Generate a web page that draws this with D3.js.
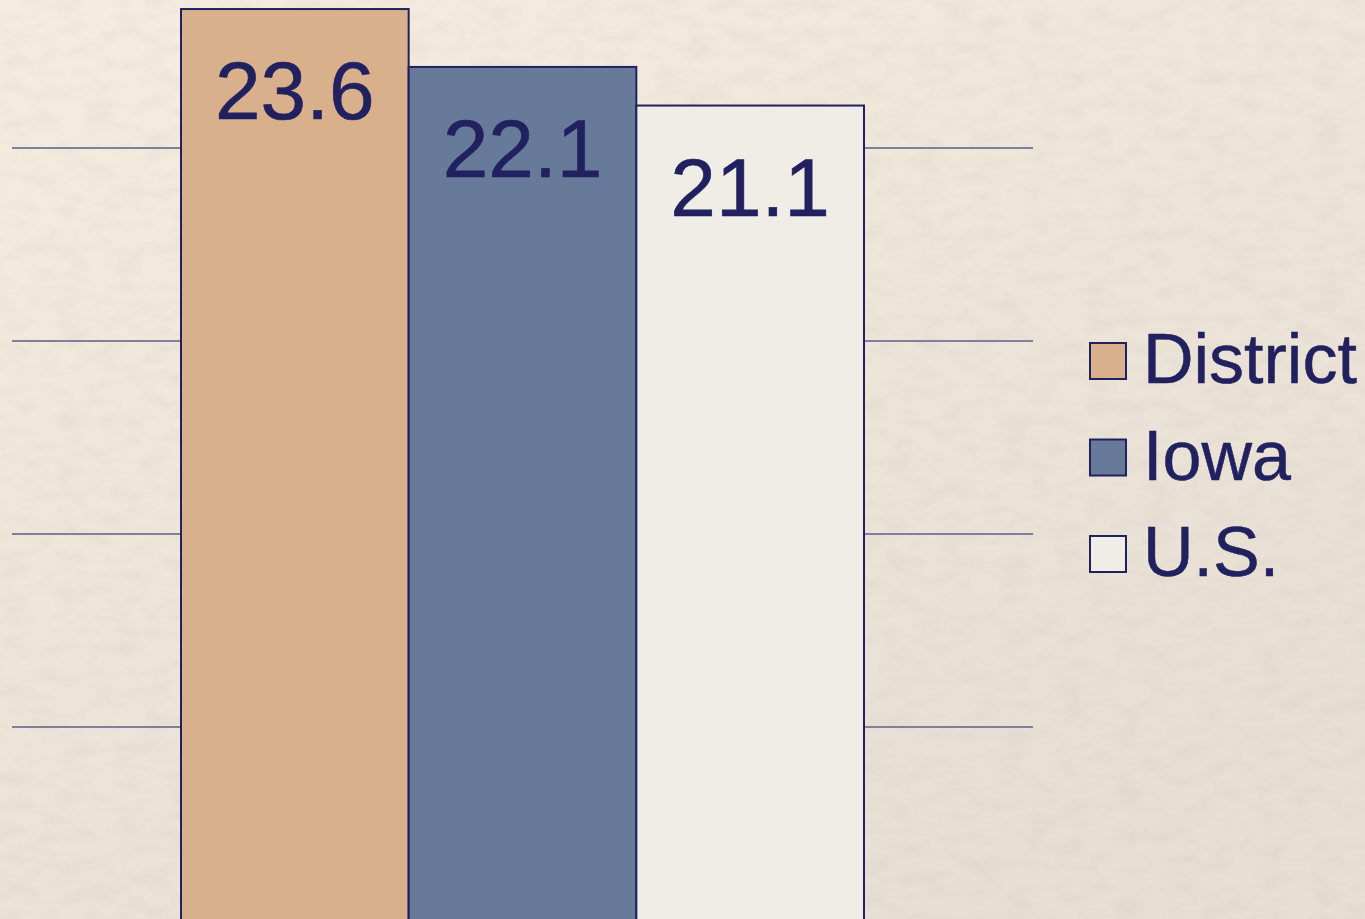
<!DOCTYPE html>
<html>
<head>
<meta charset="utf-8">
<script src="https://cdn.jsdelivr.net/npm/d3@7"></script>
<style>
  html, body { margin: 0; padding: 0; overflow: hidden; }
  svg { display: block; }
</style>
</head>
<body>
<div id="chart-area"></div>
<script>
// data
var categories = ["District", "Iowa", "U.S."]
var values = [23.6, 22.1, 21.1]
var gridValues = [5, 10, 15, 20]

var width = 1365
var height = 919

var colors = ["#d8b08c", "#687a99", "#f0ede6"]
var ink = "#22215f"

var svg = d3.select("#chart-area").append("svg")
  .attr("width", width)
  .attr("height", height)

// paper background
var defs = svg.append("defs")
var grad = defs.append("linearGradient")
  .attr("id", "paper")
  .attr("x1", "0").attr("y1", "0").attr("x2", "0.6").attr("y2", "1")
grad.append("stop").attr("offset", "0%").attr("stop-color", "#f4ede0")
grad.append("stop").attr("offset", "55%").attr("stop-color", "#ede5d8")
grad.append("stop").attr("offset", "100%").attr("stop-color", "#e7dfd4")

var filter = defs.append("filter").attr("id", "grain")
  .attr("x", 0).attr("y", 0).attr("width", "100%").attr("height", "100%")
filter.append("feTurbulence")
  .attr("type", "fractalNoise")
  .attr("baseFrequency", "0.035 0.07")
  .attr("numOctaves", 3)
  .attr("seed", 4)
filter.append("feColorMatrix")
  .attr("type", "matrix")
  .attr("values", "0 0 0 0 0.5  0 0 0 0 0.45  0 0 0 0 0.4  -0.6 0 0 0 0.35")

svg.append("rect")
  .attr("width", width).attr("height", height)
  .attr("fill", "url(#paper)")
svg.append("rect")
  .attr("width", width).attr("height", height)
  .attr("filter", "url(#grain)")
  .attr("opacity", 0.5)

// scales
var x = d3.scaleBand()
  .domain(categories)
  .range([181, 864])
  .padding(0)

var y = d3.scaleLinear()
  .domain([0, 25])
  .range([920, -45])

// gridlines
svg.append("g").selectAll("line")
  .data(gridValues)
  .enter().append("line")
  .attr("x1", 12)
  .attr("x2", 1033)
  .attr("y1", d => y(d))
  .attr("y2", d => y(d))
  .attr("stroke", "#7d80a0")
  .attr("stroke-width", 2)

// bars
var bars = svg.append("g")
bars.selectAll("rect")
  .data(values)
  .enter().append("rect")
  .attr("x", (d, i) => x(categories[i]))
  .attr("y", d => y(d))
  .attr("width", x.bandwidth())
  .attr("height", d => y(0) - y(d))
  .attr("fill", (d, i) => colors[i])
  .attr("stroke", ink)
  .attr("stroke-width", 2)

bars.selectAll("text")
  .data(values)
  .enter().append("text")
  .attr("x", (d, i) => x(categories[i]) + x.bandwidth() / 2)
  .attr("y", d => y(d) + 110)
  .attr("text-anchor", "middle")
  .attr("font-family", "Liberation Sans, Arial, sans-serif")
  .attr("font-size", "82px")
  .attr("fill", ink)
  .attr("stroke", ink)
  .attr("stroke-width", 0.6)
  .text(d => d3.format(".1f")(d))

// legend
var legend = svg.append("g")
  .attr("transform", "translate(1090, 343)")

categories.forEach((cat, i) => {
  var row = legend.append("g")
    .attr("transform", "translate(0, " + (i * 96.5) + ")")

  row.append("rect")
    .attr("width", 36)
    .attr("height", 36)
    .attr("fill", colors[i])
    .attr("stroke", ink)
    .attr("stroke-width", 2)

  row.append("text")
    .attr("x", 53)
    .attr("y", 40)
    .attr("font-family", "Liberation Sans, Arial, sans-serif")
    .attr("font-size", "70px")
    .attr("fill", ink)
    .attr("stroke", ink)
    .attr("stroke-width", 0.5)
    .text(cat)
})
</script>
</body>
</html>
